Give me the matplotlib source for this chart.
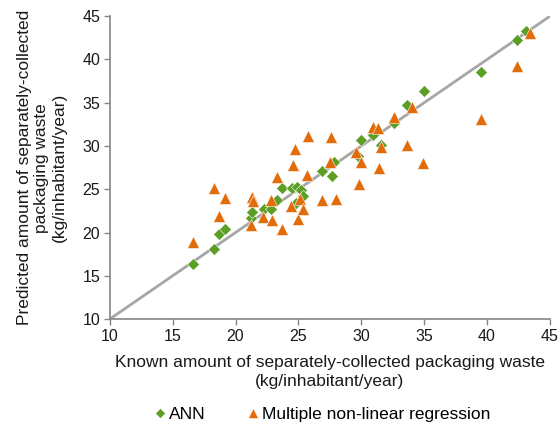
import numpy as np
import matplotlib
matplotlib.use("Agg")
import matplotlib.pyplot as plt

plt.rcParams['font.family'] = ['Liberation Sans', 'DejaVu Sans']

# ANN predictions (known, predicted)
ann_known = [16.6, 18.3, 18.7, 19.2, 21.2, 21.3, 22.3, 22.8, 23.3, 23.7, 24.5, 24.9, 25.2, 25.4,
             24.8, 26.9, 27.7, 27.8, 29.7, 30.0, 30.9, 31.6, 32.6, 33.6, 35.0, 39.5, 42.4, 43.1]
ann_pred = [16.4, 18.1, 19.8, 20.4, 21.7, 22.4, 22.7, 22.7, 23.8, 25.1, 25.1, 25.3, 24.9, 24.2,
            23.4, 27.1, 26.5, 28.1, 28.9, 30.7, 31.3, 30.1, 32.7, 34.7, 36.4, 38.5, 42.2, 43.3]

# Multiple non-linear regression predictions
mnlr_known = [16.6, 18.3, 18.7, 19.2, 21.2, 21.3, 21.4, 22.2, 22.8, 22.9, 23.3, 23.7, 24.4, 24.6,
              24.7, 25.0, 25.1, 25.4, 25.7, 25.8, 26.9, 27.5, 27.6, 28.0, 29.6, 29.8, 30.0, 30.9,
              31.3, 31.4, 31.6, 32.6, 33.6, 34.0, 34.9, 39.5, 42.4, 43.4]
mnlr_pred = [18.9, 25.1, 21.9, 24.0, 20.9, 24.1, 23.7, 21.8, 23.8, 21.4, 26.4, 20.4, 23.1, 27.8,
             29.7, 21.6, 23.9, 22.7, 26.7, 31.2, 23.8, 28.1, 31.0, 23.9, 29.3, 25.6, 28.2, 32.2,
             32.1, 27.5, 29.9, 33.3, 30.1, 34.5, 28.0, 33.1, 39.3, 43.1]

ticks = [10, 15, 20, 25, 30, 35, 40, 45]

green = '#5c9f24'
orange = '#e26b0a'

fig = plt.figure(figsize=(5.6, 4.26), dpi=100)
ax = fig.add_axes([0.196, 0.251, 0.786, 0.711])

# 1:1 line
ax.plot([10, 45], [10, 45], color='#a6a6a6', lw=2, zorder=1)

ax.plot(ann_known, ann_pred, 'D', color=green, markersize=6.5, markeredgecolor='white',
        markeredgewidth=0.4, ls='none', label='ANN', zorder=2)
ax.plot(mnlr_known, mnlr_pred, '^', color=orange, markersize=9, markeredgecolor='white',
        markeredgewidth=0.4, ls='none', label='Multiple non-linear regression', zorder=3)

ax.set_xlim(10, 45)
ax.set_ylim(10, 45)
ax.set_xticks(ticks)
ax.set_yticks(ticks)
for s in ['top', 'right']:
    ax.spines[s].set_visible(False)
for s in ['left', 'bottom']:
    ax.spines[s].set_color('#868686')
    ax.spines[s].set_linewidth(1.2)
ax.tick_params(direction='out', length=4, width=1, color='#868686', labelsize=11.5,
               labelcolor='#1a1a1a', pad=3)

ax.set_xlabel('Known amount of separately-collected packaging waste\n(kg/inhabitant/year)',
              fontsize=12.5, color='#1a1a1a', labelpad=8, linespacing=1.3)
ax.set_ylabel('Predicted amount of separately-collected\npackaging waste\n(kg/inhabitant/year)',
              fontsize=12.5, color='#1a1a1a', labelpad=11, linespacing=1.2)

fig.legend(loc='lower center', bbox_to_anchor=(0.575, -0.028), ncol=2, frameon=False,
           fontsize=12.5, handlelength=0.7, handletextpad=0.15, columnspacing=2.4,
           markerscale=0.75)

fig.savefig('out.png', dpi=100)
